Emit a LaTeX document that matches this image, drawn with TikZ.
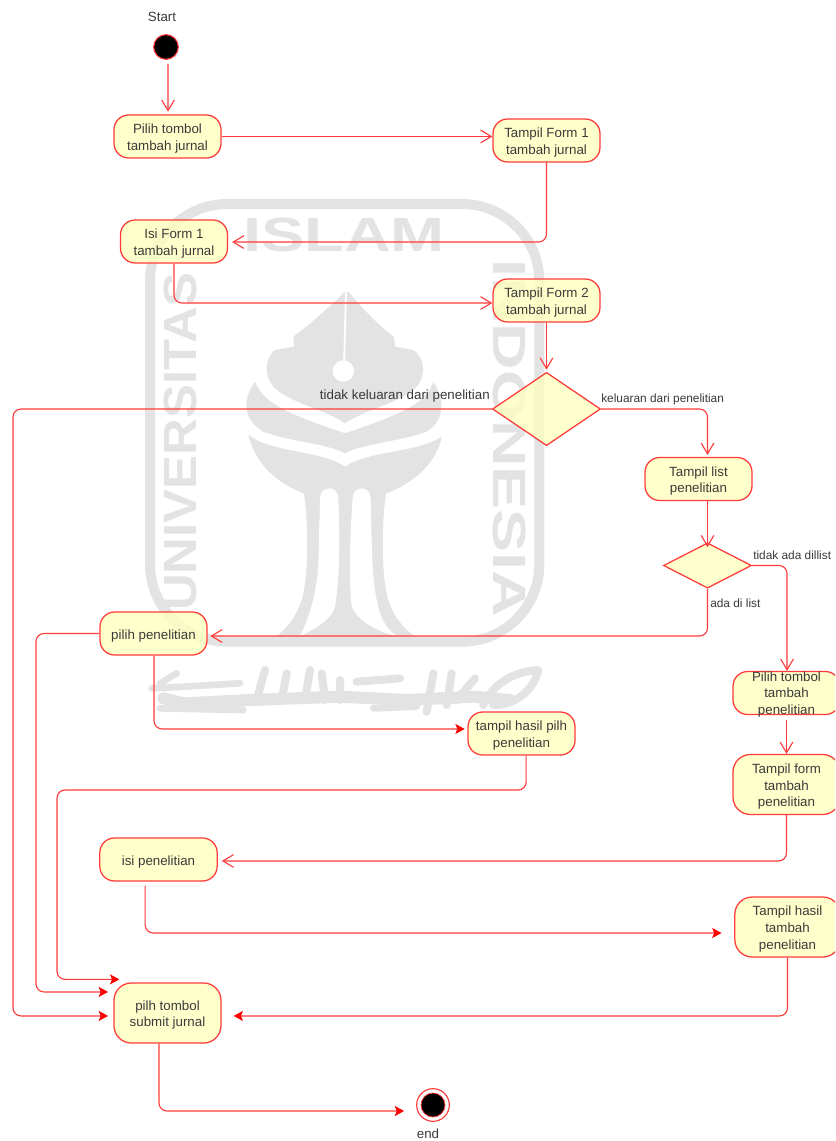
\documentclass[tikz,border=0pt]{standalone}
\usepackage{fontspec}
\setmainfont{Liberation Sans}
\usetikzlibrary{arrows.meta,shapes.geometric}
\definecolor{umlred}{HTML}{FF3B3B}
\definecolor{umlfill}{HTML}{FFFFC0}
\definecolor{umltext}{HTML}{3A3A3A}
\definecolor{wm}{HTML}{E3E3E3}
\newcommand{\firstline}{\rule{0pt}{10.4pt}}
\tikzset{
  box/.style={draw=umlred,line width=0.95pt,fill=umlfill,fill opacity=0.82,text opacity=1,rounded corners=11pt,
    minimum width=80.25pt,minimum height=32.25pt,inner sep=0pt,align=center,text=umltext,
    font=\fontsize{10}{12.5}\selectfont},
  tallbox/.style={box,minimum height=45pt,rounded corners=13pt},
  txt/.style={text=umltext,inner sep=0pt,align=center,font=\fontsize{10}{12.5}\selectfont},
  small/.style={text=umltext,inner sep=0pt,font=\fontsize{8.9}{11}\selectfont},
  decision/.style={diamond,aspect=1.47,draw=umlred,line width=0.95pt,fill=umlfill,fill opacity=0.78,inner sep=0pt},
  flow/.style={draw=umlred,line width=0.85pt,rounded corners=6pt,-{Straight Barb[length=8pt,width=9.5pt,line width=0.85pt]}},
  flowfill/.style={draw=umlred,line width=0.85pt,rounded corners=6pt,-{Stealth[length=7pt,width=7.5pt,inset=1.5pt,color=red]}},
  wmstroke/.style={draw=wm,line cap=round,line join=round},
  wmtext/.style={text=wm,inner sep=0pt,font=\fontsize{35}{35}\bfseries\selectfont},
}
\begin{document}
\begin{tikzpicture}[x=0.75pt,y=-0.75pt]
\useasboundingbox (0,0) rectangle (835,1141);
\clip (0,0) rectangle (835,1141);
\fill[white] (0,0) rectangle (835,1141);

% watermark (coordinates as in a 3x crop at 140,190)
\begin{scope}[shift={(140,190)},x=0.25pt,y=-0.25pt]
  \draw[wm,line width=7.5pt,rounded corners=58pt] (30,1355) -- (30,42) -- (1198,42) -- (1198,1355) -- cycle;
  \node[wmtext,font=\fontsize{36}{36}\bfseries\selectfont,xscale=1.35] at (612,134) {ISLAM};
  \node[wmtext,rotate=90,xscale=1.09] at (120,755) {UNIVERSITAS};
  \node[wmtext,rotate=-90,xscale=1.38] at (1108,745) {INDONESIA};
  % top leaf
  \fill[wm] (615,305) .. controls (560,360) and (500,410) .. (460,440) -- (462,470) -- (405,480)
     .. controls (370,510) and (375,560) .. (400,590) .. controls (450,640) and (560,660) .. (615,700)
     .. controls (670,660) and (780,640) .. (830,590) .. controls (855,560) and (860,510) .. (820,480)
     -- (765,470) -- (762,440) .. controls (720,410) and (670,360) .. (625,305) -- cycle;
  \draw[white,line width=1.4pt] (618,305) -- (612,530);
  \fill[white] (610,543) circle (32);
  % middle crescent
  \fill[wm] (345,575) .. controls (305,630) and (310,690) .. (370,725) .. controls (450,755) and (560,760) .. (615,790)
     .. controls (670,760) and (780,755) .. (860,725) .. controls (915,690) and (915,630) .. (880,575)
     .. controls (860,640) and (790,670) .. (615,730) .. controls (440,670) and (370,640) .. (345,575) -- cycle;
  % lower part
  \fill[wm] (325,735) .. controls (400,790) and (540,780) .. (615,830) .. controls (690,780) and (830,790) .. (905,740)
     .. controls (890,820) and (820,880) .. (738,910) .. controls (725,1000) and (725,1130) .. (738,1200)
     .. controls (750,1270) and (790,1320) .. (835,1345) -- (400,1345) .. controls (440,1320) and (480,1270) .. (492,1200)
     .. controls (505,1130) and (505,1000) .. (492,910) .. controls (410,880) and (345,820) .. (325,735) -- cycle;
  % pale legs
  \fill[white] (540,925) .. controls (540,885) and (595,885) .. (595,925) .. controls (600,1050) and (600,1150) .. (585,1250)
     .. controls (575,1290) and (520,1320) .. (480,1338) .. controls (510,1280) and (530,1200) .. (535,1130) -- cycle;
  \fill[white] (638,925) .. controls (638,885) and (692,885) .. (692,925) .. controls (695,1050) and (695,1130) .. (705,1200)
     .. controls (715,1270) and (730,1310) .. (770,1338) .. controls (710,1325) and (650,1290) .. (635,1250)
     .. controls (625,1150) and (630,1050) .. (638,925) -- cycle;
\end{scope}
% watermark calligraphy band (coordinates as in a 3x crop at 140,650)
\begin{scope}[shift={(140,650)},x=0.25pt,y=-0.25pt]
  \draw[wmstroke,line width=9pt] (70,145) -- (130,160) -- (330,150) -- (600,140) -- (800,150) -- (1000,140) -- (1110,150);
  \draw[wmstroke,line width=5pt] (35,115) -- (130,110) -- (300,100) (110,70) -- (60,100);
  \draw[wmstroke,line width=6pt] (375,60) -- (350,150) (440,70) -- (425,150) (510,60) -- (495,150) (545,70) -- (555,150)
     (600,90) -- (600,150) (650,95) -- (780,85) (880,70) -- (860,185) (935,70) -- (920,165) (1005,85) -- (950,150);
  \draw[wmstroke,line width=6pt] (1030,165) .. controls (1060,100) and (1120,65) .. (1195,60) .. controls (1180,120) and (1130,165) .. (1060,165);
  \draw[wmstroke,line width=5pt] (60,175) -- (310,180) (700,175) -- (830,170);
\end{scope}

% nodes
\node[txt] (startl) at (162,17) {Start};
\node[circle,draw=umlred,line width=0.85pt,fill=black,minimum size=18.5pt,inner sep=0pt] (start) at (166,47) {};
\node[box] (n1) at (167.5,136.5) {\firstline Pilih tombol\\tambah jurnal};
\node[box] (n2) at (546.5,140.5) {\firstline Tampil Form 1\\tambah jurnal};
\node[box] (n3) at (174,241.5) {\firstline Isi Form 1\\tambah jurnal};
\node[box] (n4) at (546.5,300.5) {\firstline Tampil Form 2\\tambah jurnal};
\node[decision,minimum width=81pt,minimum height=55pt] (d1) at (546.5,409) {};
\node[box] (n5) at (698.5,479) {\firstline Tampil list\\penelitian};
\node[decision,minimum width=66pt,minimum height=34pt,aspect=1.93] (d2) at (707.5,565.5) {};
\node[box] (n6) at (153.5,633.5) {\firstline pilih penelitian};
\node[box] (n7) at (521.5,733.5) {\firstline tampil hasil pilh\\penelitian};
\node[box] (n8) at (786.5,693) {};
\node[txt] (n8t) at (786.5,694.5) {Pilih tombol\\tambah\\penelitian};
\node[tallbox] (n9) at (786.5,784.5) {\firstline Tampil form\\tambah\\penelitian};
\node[box,minimum width=88pt] (n10) at (158.5,859.5) {\firstline isi penelitian};
\node[tallbox,minimum width=79pt] (n11) at (787.5,927) {\firstline Tampil hasil\\tambah\\penelitian};
\node[tallbox] (n12) at (167.5,1013) {\firstline pilh tombol\\submit jurnal};
\node[circle,draw=umlred,line width=0.85pt,fill=white,minimum size=24.5pt,inner sep=0pt] (end) at (433,1105) {};
\node[circle,draw=umlred,line width=0.6pt,fill=black,minimum size=18pt,inner sep=0pt] (endin) at (433,1105) {};
\node[txt] (endl) at (428,1134) {end};

% edge labels
\node[txt,anchor=east] (l1) at (490,396) {tidak keluaran dari penelitian};
\node[small,anchor=west] (l2) at (601,399) {keluaran dari penelitian};
\node[small,anchor=west] (l3) at (753,555) {tidak ada dillist};
\node[small,anchor=west] (l4) at (710,603) {ada di list};

% connectors
\coordinate (c1) at (13,409);
\coordinate (c4) at (36,633.5);
\coordinate (c6) at (57,790);
\draw[flow,shorten <=3pt] ([xshift=1.5pt]start.south) -- ([xshift=0.4pt,yshift=2pt]n1.north);
\draw[flow] (n1.east) -- ([yshift=3pt]n2.west);
\draw[flow,shorten >=3pt] (n2.south) |- ([yshift=-0.4pt]n3.east);
\draw[flow] (n3.south) |- ([yshift=-1.9pt]n4.west);
\draw[flow] (n4.south) -- ([yshift=1.5pt]d1.north);
\draw[flowfill,shorten >=4pt] (d1.west) -- (c1) |- ([yshift=-2.2pt]n12.west);
\draw[flow,shorten >=1.5pt] (d1.east) -| ([xshift=6.75pt]n5.north);
\draw[flow] ([xshift=6.75pt]n5.south) -- ([yshift=-3.75pt]d2.north);
\draw[flow,shorten >=2pt] (d2.south) |- ([yshift=-1.9pt]n6.east);
\draw[flow] (d2.east) -| ([xshift=0.4pt]n8.north);
\draw[flowfill,shorten >=2pt] ([xshift=0.4pt]n6.south) |- ([yshift=3.4pt]n7.west);
\draw[flowfill,shorten >=4pt] (n6.west) -- (c4) |- ([yshift=15.8pt]n12.west);
\draw[flowfill] ([xshift=3.5pt]n7.south) |- (c6) |- ([xshift=4.5pt,yshift=2.25pt]n12.north west);
\draw[flow] ([yshift=-3.4pt]n8.south) -- (n9.north);
\draw[flow,shorten >=3pt] (n9.south) |- ([yshift=-1.1pt]n10.east);
\draw[flowfill,shorten <=3pt] ([xshift=-10pt]n10.south) |- ([xshift=-9.5pt,yshift=-4.5pt]n11.west);
\draw[flowfill,shorten >=9pt] (n11.south) |- ([yshift=-2.2pt]n12.east);
\draw[flowfill,shorten >=9pt] ([xshift=-6.4pt]n12.south) |- ([yshift=-4.5pt]end.west);
\end{tikzpicture}
\end{document}
